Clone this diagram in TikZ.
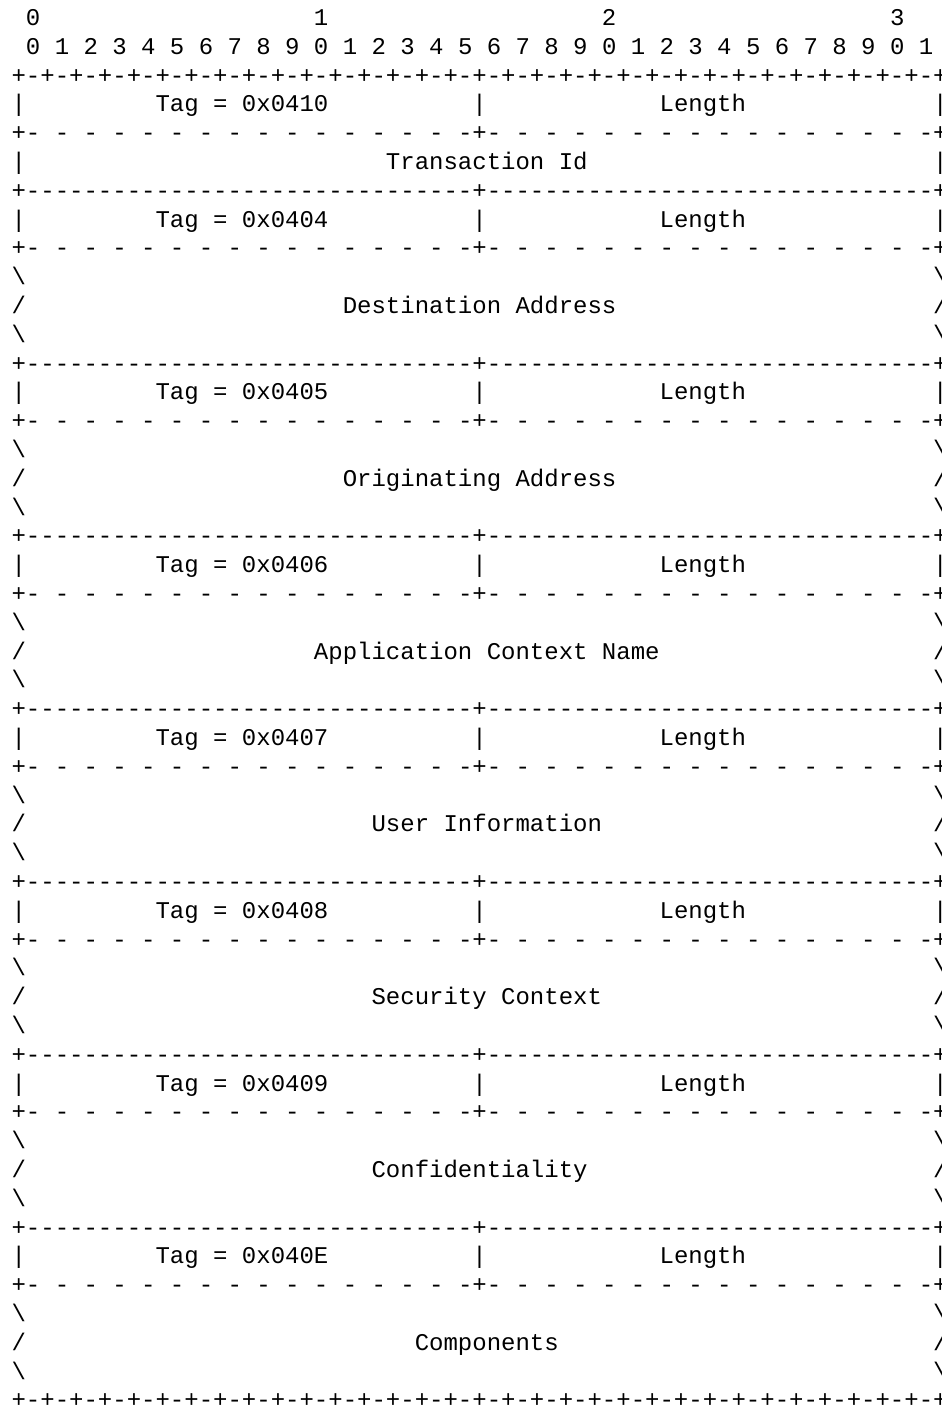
\documentclass[tikz,border=0pt]{standalone}
\usepackage{fontspec}
\setmonofont{Liberation Mono}
% rows of the ascii frame, one character per bit column
\newcommand\rulerrow{\foreach \i in {1,...,32}{+-}+}
\newcommand\solidrow{+\foreach \i in {1,...,31}{-}+\foreach \i in {1,...,31}{-}+}
\newcommand\dashrow{+-\foreach \i in {1,...,15}{\ -}+-\foreach \i in {1,...,15}{\ -}+}

\begin{document}
\begin{tikzpicture}[
    x=6pt, y=-12pt,
    ascii/.style={anchor=base west, inner sep=0pt, outer sep=0pt, font=\ttfamily\fontsize{10}{12}\selectfont}
]
    % page
    \path[fill=white, use as bounding box] (-4.83pt,10.6pt) rectangle (387.67pt,-575.65pt);

    % bit numbers
    \node[ascii] (dec0) at (1,0) {0};
    \node[ascii] (dec1) at (21,0) {1};
    \node[ascii] (dec2) at (41,0) {2};
    \node[ascii] (dec3) at (61,0) {3};
    \node[ascii] (bits) at (1,1) {0 1 2 3 4 5 6 7 8 9 0 1 2 3 4 5 6 7 8 9 0 1 2 3 4 5 6 7 8 9 0 1};
    \node[ascii] (rulertop) at (0,2) {\rulerrow};
    \node[ascii] (rulerbot) at (0,48) {\rulerrow};

    % Transaction Id
    \node[ascii] (tag0) at (10,3) {Tag = 0x0410};
    \node[ascii] (len0) at (45,3) {Length};
    \foreach \x in {0,32,64} \node[ascii] (bar0-\x) at (\x,3) {|};
    \node[ascii] (dash0) at (0,4) {\dashrow};
    \node[ascii] (name0) at (26,5) {Transaction Id};
    \foreach \x in {0,64} \node[ascii] (side0-\x) at (\x,5) {|};
    \foreach \r in {6,12,...,42} \node[ascii] (solid\r) at (0,\r) {\solidrow};

    % tagged fields
    \foreach \tg/\nm/\c [count=\k] in {0404/Destination Address/23, 0405/Originating Address/23,
        0406/Application Context Name/21, 0407/User Information/25, 0408/Security Context/25,
        0409/Confidentiality/25, 040E/Components/28} {
        \pgfmathtruncatemacro{\r}{1+6*\k}
        \node[ascii] (tag\k) at (10,\r) {Tag = 0x\tg};
        \node[ascii] (len\k) at (45,\r) {Length};
        \foreach \x in {0,32,64} \node[ascii] (bar\k-\x) at (\x,\r) {|};
        \node[ascii] (dash\k) at (0,\r+1) {\dashrow};
        \foreach \x in {0,64} {
            \node[ascii] (bsa\k-\x) at (\x,\r+2) {\textbackslash};
            \node[ascii] (sl\k-\x) at (\x,\r+3) {/};
            \node[ascii] (bsb\k-\x) at (\x,\r+4) {\textbackslash};
        }
        \node[ascii] (name\k) at (\c,\r+3) {\nm};
    }
\end{tikzpicture}
\end{document}
